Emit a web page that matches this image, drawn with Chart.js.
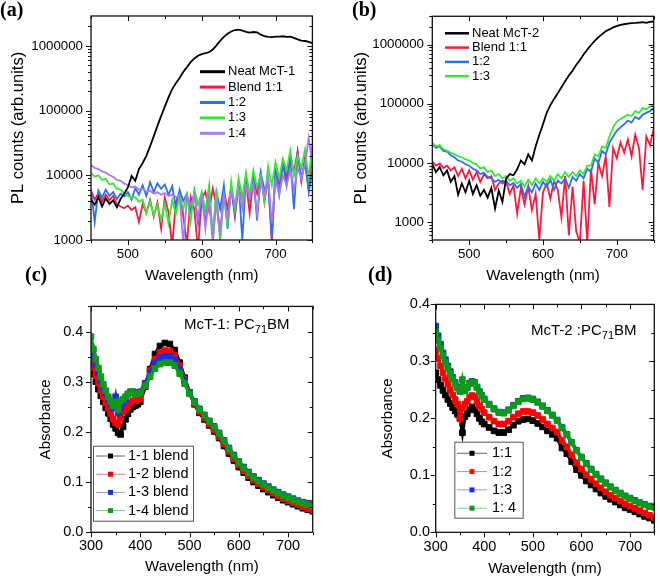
<!DOCTYPE html>
<html>
<head>
<meta charset="utf-8">
<script src="https://cdn.jsdelivr.net/npm/chart.js@4"></script>
<style>
body { margin: 0; background: #fff; }
#wrap { position: relative; width: 660px; height: 580px; overflow: hidden; font-family: "Liberation Sans", Arial, sans-serif; }
canvas { position: absolute; }
.lab { position: absolute; font: bold 20px "Liberation Serif", "Times New Roman", serif; line-height: 20px; }
.note { position: absolute; font-size: 15px; line-height: 15px; white-space: nowrap; }
.note sub { font-size: 11px; vertical-align: -4px; }
</style>
</head>
<body>
<div id="wrap">
  <canvas id="ca" width="330" height="290" style="left:0;top:0"></canvas>
  <canvas id="cb" width="330" height="290" style="left:330px;top:0"></canvas>
  <canvas id="cc" width="330" height="290" style="left:0;top:290px"></canvas>
  <canvas id="cd" width="330" height="290" style="left:330px;top:290px"></canvas>
  <div class="lab" style="left:0;top:-1px">(a)</div>
  <div class="lab" style="left:352px;top:-1px">(b)</div>
  <div class="lab" style="left:25px;top:264px">(c)</div>
  <div class="lab" style="left:368px;top:264px">(d)</div>
  <div class="note" style="left:184px;top:316px">McT-1: PC<sub>71</sub>BM</div>
  <div class="note" style="left:531px;top:322px">McT-2 :PC<sub>71</sub>BM</div>
</div>
<script>
// PL spectra, wavelength (nm)
var plWl = [450,455,460,465,470,475,480,485,490,495,500,505,510,515,520,525,530,535,540,545,
  550,555,560,565,570,575,580,585,590,595,600,605,610,615,620,625,630,635,640,645,
  650,655,660,665,670,675,680,685,690,695,700,705,710,715,720,725,730,735,740,745,750];

// (a) McT-1
var neat1 = [4200,3500,4600,3300,4400,3600,4100,3200,4300,5200,
  6500,9800,8200,12500,15500,20000,28000,40000,58000,82000,
  115000,160000,215000,265000,320000,395000,470000,560000,640000,705000,
  745000,770000,800000,880000,1020000,1200000,1380000,1540000,1670000,1760000,
  1780000,1730000,1650000,1600000,1640000,1620000,1490000,1410000,1380000,1370000,
  1390000,1390000,1410000,1380000,1390000,1330000,1260000,1210000,1190000,1150000,1100000];
var a11 = [5800,4200,5300,3900,5000,4100,4800,3600,3300,3100,
  3400,2900,3200,1900,3600,2600,4200,2300,3800,1500,
  4500,2700,800,3900,5200,2400,850,4600,3000,700,
  4400,5600,2800,6200,3500,1200,5800,3100,6500,2300,
  7000,4200,8000,2600,9000,5200,11000,3800,9500,900,
  12000,7500,16000,9000,21000,11000,24000,8000,19000,6000,22000];
var a12 = [6200,1900,5800,4500,6000,4800,5500,4300,5200,4700,
  5500,4200,6300,5000,7000,4800,7800,5500,7500,6200,
  7200,5000,6800,3200,6000,4000,5200,2600,5500,1800,
  5000,2200,6000,1100,5500,3000,7000,1500,6500,2500,
  8000,1000,9000,4500,10000,2000,11000,6000,8000,1100,
  13000,5000,15000,7000,18000,3000,22000,9000,16000,5500,12000];
var a13 = [11000,9500,10000,8500,8800,7200,7500,6200,6000,5200,
  4800,4500,4600,3900,4200,2600,4000,2400,3500,2000,
  3600,1800,4200,2500,4800,3000,5000,1900,6000,3500,
  5500,2800,7000,1100,6000,900,5000,1600,8000,3000,
  9000,4500,11000,5000,12000,6500,10000,4000,14000,7000,
  16000,9000,18000,12000,24000,10000,20000,13000,25000,9000,31000];
var a14 = [14500,13000,12500,11500,11000,10000,9500,8500,8200,7500,
  7000,6500,6700,6000,6200,5600,5800,5200,5500,5000,
  5300,4800,5000,4600,4800,900,4500,3500,4800,2200,
  5000,1500,4500,900,4200,1200,5000,2000,5500,3500,
  6000,3000,7000,4500,7500,2500,8000,5000,9000,1800,
  8500,5000,10000,7000,12000,6000,13000,9000,15000,38000,14000];

// (b) McT-2
var neat2 = [9500,7000,8500,6200,7500,4800,6000,2900,4500,3200,
  5000,3000,4200,2800,3500,2600,3800,1700,3400,2200,
  5500,6500,6200,7800,11000,9500,14000,11000,19000,30000,
  45000,70000,95000,120000,150000,190000,240000,300000,360000,450000,
  550000,680000,820000,980000,1150000,1320000,1500000,1680000,1800000,1950000,
  2050000,2150000,2200000,2250000,2300000,2320000,2350000,2380000,2330000,2420000,2450000];
var b11 = [10500,9000,9800,8200,9000,7500,8500,6000,8000,5500,
  7500,5200,7000,4800,6500,5500,6000,3500,4500,5000,
  4800,3000,4200,1400,3800,2000,4000,1600,3000,500,
  3200,4500,2500,5000,3500,1200,6000,600,4000,700,
  450,5000,450,8000,2000,10000,6000,13000,1800,18000,
  12000,22000,15000,25000,13000,30000,18000,3500,28000,20000,38000];
var b12 = [21000,18000,19000,16000,15500,13500,12500,11000,10500,9500,
  9000,8000,7500,6500,6800,5800,5500,4800,5200,4500,
  5000,4200,4600,3800,4400,2700,4000,3200,4500,3500,
  4800,4000,5200,3500,5000,4500,5500,3800,5800,5000,
  6500,5500,8000,7000,12000,10000,16000,14000,22000,28000,
  35000,40000,45000,52000,48000,60000,55000,65000,70000,75000,85000];
var b13 = [22000,19000,20000,17000,16000,15000,14000,13000,12500,11500,
  11000,10000,9500,8000,8500,7000,7500,6000,6500,5500,
  6000,5000,5500,4500,5000,4000,5200,4200,5500,4500,
  5500,4800,6000,5000,6500,5500,7000,5800,7000,6000,
  7500,6500,9000,9000,14000,13000,19000,18000,28000,40000,
  50000,55000,60000,65000,62000,75000,70000,85000,80000,90000,95000];

// Absorbance, wavelength (nm)
var absWl = [300,305,310,315,320,325,330,335,340,345,350,355,360,365,370,375,380,385,390,395,400,
  410,420,430,440,450,460,470,480,490,500,510,520,530,540,550,560,570,580,590,600,
  610,620,630,640,650,660,670,680,690,700,710,720,730,740,750];

// (c) McT-1:PC71BM
var c11 = [0.33,0.315,0.30,0.285,0.272,0.26,0.248,0.237,0.226,0.215,0.207,0.198,0.195,0.21,0.225,0.236,0.245,0.25,0.252,0.255,0.26,
  0.29,0.325,0.355,0.371,0.377,0.375,0.363,0.338,0.308,0.278,0.255,0.238,0.225,0.213,0.201,0.188,0.172,0.157,0.143,0.13,
  0.119,0.109,0.1,0.093,0.086,0.08,0.074,0.069,0.064,0.06,0.056,0.052,0.048,0.045,0.042];
var c12 = [0.345,0.328,0.312,0.297,0.283,0.27,0.258,0.247,0.236,0.226,0.218,0.215,0.228,0.24,0.245,0.252,0.258,0.262,0.262,0.265,0.268,
  0.295,0.322,0.345,0.358,0.362,0.361,0.352,0.332,0.305,0.278,0.257,0.241,0.228,0.216,0.204,0.191,0.176,0.161,0.147,0.134,
  0.123,0.113,0.104,0.097,0.09,0.084,0.078,0.072,0.067,0.063,0.059,0.055,0.051,0.047,0.044];
var c13 = [0.37,0.35,0.333,0.317,0.302,0.289,0.276,0.265,0.255,0.248,0.27,0.238,0.25,0.258,0.265,0.275,0.28,0.28,0.278,0.278,0.28,
  0.297,0.318,0.337,0.347,0.35,0.35,0.343,0.325,0.302,0.279,0.261,0.246,0.234,0.222,0.211,0.198,0.183,0.168,0.154,0.141,
  0.13,0.12,0.111,0.104,0.097,0.091,0.085,0.08,0.075,0.071,0.067,0.063,0.06,0.058,0.057];
var c14 = [0.39,0.365,0.345,0.327,0.31,0.295,0.282,0.27,0.26,0.252,0.26,0.245,0.262,0.265,0.27,0.276,0.28,0.278,0.275,0.276,0.278,
  0.292,0.31,0.326,0.335,0.338,0.338,0.332,0.316,0.296,0.276,0.259,0.245,0.233,0.221,0.21,0.197,0.182,0.166,0.152,0.139,
  0.128,0.118,0.109,0.102,0.095,0.089,0.083,0.078,0.073,0.069,0.065,0.061,0.058,0.055,0.052];

// (d) McT-2:PC71BM
var d11 = [0.28,0.268,0.258,0.249,0.241,0.233,0.226,0.219,0.213,0.207,0.2,0.175,0.203,0.208,0.215,0.22,0.215,0.208,0.2,0.194,0.19,
  0.184,0.178,0.175,0.175,0.18,0.188,0.195,0.198,0.199,0.196,0.191,0.185,0.178,0.172,0.165,0.148,0.138,0.124,0.11,0.1,
  0.09,0.083,0.076,0.069,0.063,0.058,0.053,0.048,0.043,0.04,0.036,0.032,0.028,0.025,0.021];
var d12 = [0.32,0.305,0.292,0.28,0.27,0.26,0.25,0.241,0.233,0.225,0.2,0.218,0.225,0.23,0.237,0.24,0.238,0.23,0.222,0.216,0.21,
  0.202,0.195,0.19,0.19,0.195,0.202,0.208,0.212,0.212,0.21,0.205,0.198,0.19,0.183,0.176,0.161,0.15,0.136,0.122,0.111,
  0.101,0.093,0.085,0.078,0.071,0.065,0.06,0.055,0.05,0.046,0.042,0.038,0.034,0.03,0.026];
var d13 = [0.362,0.345,0.33,0.315,0.303,0.292,0.282,0.272,0.263,0.255,0.248,0.255,0.25,0.255,0.262,0.265,0.263,0.255,0.247,0.24,0.234,
  0.225,0.217,0.211,0.21,0.215,0.223,0.23,0.235,0.236,0.234,0.229,0.222,0.214,0.206,0.197,0.184,0.172,0.158,0.144,0.132,
  0.121,0.111,0.102,0.094,0.087,0.08,0.074,0.069,0.064,0.06,0.056,0.052,0.049,0.046,0.044];
var d14 = [0.352,0.337,0.323,0.31,0.298,0.288,0.278,0.269,0.261,0.253,0.247,0.268,0.248,0.254,0.261,0.264,0.262,0.254,0.246,0.239,0.233,
  0.224,0.216,0.21,0.209,0.214,0.222,0.229,0.234,0.235,0.233,0.228,0.221,0.213,0.205,0.196,0.183,0.171,0.157,0.143,0.131,
  0.12,0.11,0.101,0.093,0.086,0.079,0.073,0.068,0.063,0.059,0.055,0.051,0.048,0.045,0.046];

var plColors = ['#000000', '#fa1a3f', '#2e6ff0', '#38e638', '#a37cf2'];
var absColors = ['#000000', '#ff0000', '#1a2fe0', '#0c9a1a'];
var absLegendLines = ['#666666', '#e08080', '#8a9ae8', '#80c888'];

function pts(xs, ys) {
  return xs.map(function (x, i) { return { x: x, y: ys[i] }; });
}

// frame box with ticks: out on left/bottom, in on top/right
var frame = {
  id: 'frame',
  afterDraw: function (chart, args, o) {
    var ctx = chart.ctx, a = chart.chartArea;
    var xs = chart.scales.x, ys = chart.scales.y;
    ctx.save();
    ctx.strokeStyle = '#111';
    ctx.lineWidth = 1;
    function seg(x1, y1, x2, y2) {
      ctx.beginPath(); ctx.moveTo(x1, y1); ctx.lineTo(x2, y2); ctx.stroke();
    }
    for (var v = xs.min; v <= xs.max + 1e-9; v += o.xMinor) {
      var p = Math.round(xs.getPixelForValue(v)) + 0.5;
      var len = Math.abs(v / o.xMajor - Math.round(v / o.xMajor)) < 1e-6 ? 5 : 3;
      seg(p, a.bottom, p, a.bottom + len);
      seg(p, a.top, p, a.top + len);
    }
    var yv = [];
    if (o.log) {
      for (var e = Math.floor(Math.log10(ys.min)); e <= Math.ceil(Math.log10(ys.max)); e++) {
        for (var k = 1; k <= 9; k++) {
          var val = k * Math.pow(10, e);
          if (val >= ys.min && val <= ys.max) yv.push([val, k === 1]);
        }
      }
    } else {
      for (var w = ys.min; w <= ys.max + 1e-9; w += o.yMinor) {
        yv.push([w, Math.abs(w / o.yMajor - Math.round(w / o.yMajor)) < 1e-6]);
      }
    }
    yv.forEach(function (t) {
      var q = Math.round(ys.getPixelForValue(t[0])) + 0.5;
      var l = t[1] ? 5 : 3;
      seg(a.left - l, q, a.left, q);
      seg(a.right - l, q, a.right, q);
    });
    ctx.lineWidth = 1.3;
    ctx.strokeRect(a.left, a.top, a.right - a.left, a.bottom - a.top);
    ctx.restore();
  }
};

var boxLegend = {
  id: 'boxLegend',
  afterDraw: function (chart, args, o) {
    var ctx = chart.ctx;
    ctx.save();
    if (o.box) {
      ctx.strokeStyle = '#555';
      ctx.lineWidth = 1;
      ctx.strokeRect(o.box[0] + 0.5, o.box[1] + 0.5, o.box[2], o.box[3]);
    }
    ctx.font = o.font;
    ctx.textBaseline = 'middle';
    chart.data.datasets.forEach(function (ds, i) {
      var y = o.y0 + i * o.dy;
      ctx.strokeStyle = o.lines ? o.lines[i] : ds.borderColor;
      ctx.lineWidth = o.lw;
      ctx.beginPath(); ctx.moveTo(o.x0, y); ctx.lineTo(o.x1, y); ctx.stroke();
      if (o.lines) {
        var m = (o.x0 + o.x1) / 2;
        ctx.fillStyle = ds.borderColor;
        ctx.fillRect(m - 2.5, y - 2.5, 5, 5);
      }
      ctx.fillStyle = '#000';
      ctx.fillText(ds.label, o.tx, y);
    });
    ctx.restore();
  }
};

function logLabel(v) {
  var l = Math.log10(v);
  return Math.abs(l - Math.round(l)) < 1e-9 ? String(Math.round(v)) : '';
}

function makeChart(id, p) {
  return new Chart(document.getElementById(id), {
    type: 'line',
    data: { datasets: p.datasets },
    options: {
      responsive: false,
      animation: false,
      devicePixelRatio: 1,
      layout: { padding: { left: 0, top: p.top, right: p.right, bottom: 0 } },
      plugins: {
        legend: { display: false },
        tooltip: { enabled: false },
        frame: p.frame,
        boxLegend: p.legend
      },
      scales: {
        x: {
          type: 'linear', min: p.xmin, max: 750,
          grid: { display: false, drawTicks: false },
          border: { display: false },
          afterFit: function (s) { s.height = p.xH; },
          ticks: {
            stepSize: 50, autoSkip: false, maxRotation: 0, padding: p.xPad, color: '#000',
            font: { family: 'Liberation Sans', size: p.tickSize },
            callback: function (v) { return v % 100 === 0 ? String(v) : ''; }
          },
          title: {
            display: true, text: 'Wavelength (nm)', color: '#000',
            font: { family: 'Liberation Sans', size: 15 },
            padding: { top: 0, bottom: p.xTitlePad }
          }
        },
        y: {
          type: p.log ? 'logarithmic' : 'linear', min: p.ymin, max: p.ymax,
          grid: { display: false, drawTicks: false },
          border: { display: false },
          afterFit: function (s) { s.width = p.yW; },
          ticks: {
            autoSkip: false, padding: p.yPad, color: '#000',
            stepSize: p.log ? undefined : 0.05,
            font: { family: 'Liberation Sans', size: p.tickSize },
            callback: p.log ? logLabel : function (v) {
              return Math.abs(v * 10 - Math.round(v * 10)) < 1e-6 ? v.toFixed(1) : '';
            }
          },
          title: {
            display: true, text: p.ytitle, color: '#000',
            font: { family: 'Liberation Sans', size: p.ytitleSize },
            padding: { top: p.yTitlePad, bottom: 0 }
          }
        }
      }
    },
    plugins: [frame, boxLegend]
  });
}

function plSet(label, ys, i, ord) {
  return { label: label, data: pts(plWl, ys), borderColor: plColors[i], borderWidth: 1.8,
    pointRadius: 0, tension: 0, fill: false, order: ord };
}
function absSet(label, ys, i, ord) {
  return { label: label, data: pts(absWl, ys), borderColor: absColors[i], backgroundColor: absColors[i],
    borderWidth: 3.5, pointStyle: 'rect', pointRadius: 4, pointBorderWidth: 1,
    pointBackgroundColor: absColors[i], pointBorderColor: absColors[i], tension: 0, fill: false, order: ord };
}

makeChart('ca', {
  datasets: [plSet('Neat McT-1', neat1, 0, 0), plSet('Blend 1:1', a11, 1, 4), plSet('1:2', a12, 2, 3),
    plSet('1:3', a13, 3, 2), plSet('1:4', a14, 4, 1)],
  top: 8.3, right: 17.6, xH: 50, yW: 91, xPad: 6, yPad: 8, xTitlePad: 5, yTitlePad: 8.4,
  tickSize: 13.3, log: true, ymin: 1000, ymax: 2900000, xmin: 450,
  ytitle: 'PL counts (arb.units)', ytitleSize: 16.5,
  frame: { xMinor: 50, xMajor: 100, log: true },
  legend: { font: '13px "Liberation Sans"', x0: 200, x1: 225, tx: 228, y0: 71.7, dy: 15.4, lw: 3 }
});

makeChart('cb', {
  datasets: [plSet('Neat McT-2', neat2, 0, 0), plSet('Blend 1:1', b11, 1, 3), plSet('1:2', b12, 2, 2),
    plSet('1:3', b13, 3, 1)],
  top: 8, right: 6.3, xH: 50, yW: 102.3, xPad: 6.3, yPad: 8.3, xTitlePad: 5, yTitlePad: 21.8,
  tickSize: 13.3, log: true, ymin: 500, ymax: 3000000, xmin: 450,
  ytitle: 'PL counts (arb.units)', ytitleSize: 16.5,
  frame: { xMinor: 50, xMajor: 100, log: true },
  legend: { font: '13px "Liberation Sans"', x0: 115, x1: 139, tx: 142, y0: 33.3, dy: 14.3, lw: 2.5 }
});

makeChart('cc', {
  datasets: [absSet('1-1 blend', c11, 0, 3), absSet('1-2 blend', c12, 1, 2), absSet('1-3 blend', c13, 2, 1),
    absSet('1-4 blend', c14, 3, 0)],
  top: 9, right: 17.3, xH: 47.7, yW: 91, xPad: 5, yPad: 7.7, xTitlePad: 4.3, yTitlePad: 37,
  tickSize: 14.5, log: false, ymin: 0, ymax: 0.45, xmin: 300,
  ytitle: 'Absorbance', ytitleSize: 15,
  frame: { xMinor: 50, xMajor: 100, log: false, yMinor: 0.05, yMajor: 0.1 },
  legend: { font: '14.5px "Liberation Sans"', x0: 96, x1: 125, tx: 128, y0: 166, dy: 18.2, lw: 1,
    box: [93, 155.7, 100, 75], lines: absLegendLines }
});

makeChart('cd', {
  datasets: [absSet('1:1', d11, 0, 3), absSet('1:2', d12, 1, 2), absSet('1:3', d13, 2, 1),
    absSet('1: 4', d14, 3, 0)],
  top: 10.7, right: 3, xH: 47.7, yW: 105.7, xPad: 5.7, yPad: 5.7, xTitlePad: 1.7, yTitlePad: 49.3,
  tickSize: 14.5, log: false, ymin: 0, ymax: 0.4, xmin: 300,
  ytitle: 'Absorbance', ytitleSize: 15,
  frame: { xMinor: 50, xMajor: 100, log: false, yMinor: 0.05, yMajor: 0.1 },
  legend: { font: '14.5px "Liberation Sans"', x0: 127, x1: 157, tx: 162, y0: 163.3, dy: 18.3, lw: 1,
    box: [124.3, 151.7, 68.4, 76], lines: absLegendLines }
});
</script>
</body>
</html>
